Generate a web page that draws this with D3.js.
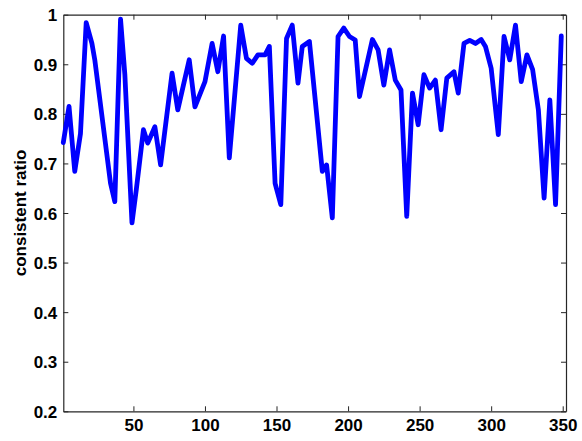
<!DOCTYPE html>
<html>
<head>
<meta charset="utf-8">
<script src="https://cdn.jsdelivr.net/npm/d3@7"></script>
<style>
  html, body { margin: 0; padding: 0; background: #fff; }
  svg { display: block; }
  .tick text { font-family: "Liberation Sans", Arial, sans-serif; font-weight: bold; font-size: 17px; fill: #000; }
</style>
</head>
<body>
<script>
// sample index along the sequence
const frameIndex = [1, 5, 9, 13, 17, 21, 23, 34, 37, 41, 44, 49, 52, 57, 60, 65, 69,
  77, 81, 89, 93, 100, 105, 109, 113, 117, 125, 129, 133, 137, 142, 145, 149, 153,
  157, 161, 165, 168, 173, 182, 185, 189, 193, 197, 201, 205, 208, 217, 221, 225,
  229, 233, 237, 241, 245, 249, 253, 257, 261, 265, 269, 274, 277, 281, 285, 289,
  293, 296, 300, 305, 309, 313, 317, 321, 325, 329, 333, 337, 341, 345, 349];

// consistent ratio at each sample
const consistentRatio = [0.742, 0.815, 0.684, 0.76, 0.984, 0.942, 0.909, 0.66, 0.623, 0.991,
  0.88, 0.58, 0.647, 0.768, 0.741, 0.774, 0.697, 0.882, 0.808, 0.909, 0.814, 0.865,
  0.942, 0.885, 0.957, 0.711, 0.979, 0.912, 0.902, 0.919, 0.919, 0.936, 0.66, 0.617,
  0.952, 0.979, 0.862, 0.936, 0.946, 0.684, 0.697, 0.59, 0.956, 0.973, 0.956, 0.949,
  0.835, 0.95, 0.929, 0.858, 0.929, 0.868, 0.848, 0.593, 0.842, 0.778, 0.879, 0.852,
  0.868, 0.768, 0.872, 0.885, 0.842, 0.942, 0.948, 0.942, 0.95, 0.936, 0.892, 0.758,
  0.956, 0.909, 0.979, 0.865, 0.919, 0.889, 0.808, 0.63, 0.828, 0.617, 0.957];

const xTickValues = [50, 100, 150, 200, 250, 300, 350];
const yTickValues = [0.2, 0.3, 0.4, 0.5, 0.6, 0.7, 0.8, 0.9, 1];
const yLabel = "consistent ratio";

const W = 582, H = 441;
const margin = { left: 63.3, right: 16, top: 14.7, bottom: 29.7 };

const svg = d3.select("body").append("svg").attr("width", W).attr("height", H);

const x = d3.scaleLinear().domain([1, 352.3]).range([margin.left, W - margin.right]);
const y = d3.scaleLinear().domain([0.2, 1]).range([H - margin.bottom, margin.top]);

const fmtY = d => (d === 1 ? "1" : d3.format(".1f")(d));

// bottom axis with labels, top axis ticks only
const gx = svg.append("g").attr("transform", `translate(0,${y(0.2)})`)
  .call(d3.axisBottom(x).tickValues(xTickValues).tickSize(-5).tickPadding(8).tickSizeOuter(0));
const gxTop = svg.append("g").attr("transform", `translate(0,${y(1)})`)
  .call(d3.axisTop(x).tickValues(xTickValues).tickSize(-5).tickFormat("").tickSizeOuter(0));

// left axis with labels, right axis ticks only
const gy = svg.append("g").attr("transform", `translate(${x(1)},0)`)
  .call(d3.axisLeft(y).tickValues(yTickValues).tickFormat(fmtY).tickSize(-5).tickPadding(6).tickSizeOuter(0));
const gyRight = svg.append("g").attr("transform", `translate(${x(352.3)},0)`)
  .call(d3.axisRight(y).tickValues(yTickValues).tickFormat("").tickSize(-5).tickSizeOuter(0));

[gx, gxTop, gy, gyRight].forEach(g => {
  g.selectAll(".domain").attr("stroke", "#262626").attr("stroke-width", 1.2);
  g.selectAll(".tick line").attr("stroke", "#262626").attr("stroke-width", 1);
});
gx.selectAll(".tick text").attr("dy", "0.71em");
gy.selectAll(".tick text").attr("dy", "0.36em");

// data line
const line = d3.line()
  .x((d, i) => x(frameIndex[i]))
  .y(d => y(d));

svg.append("path")
  .datum(consistentRatio)
  .attr("d", line)
  .attr("fill", "none")
  .attr("stroke", "#0000ff")
  .attr("stroke-width", 4.8)
  .attr("stroke-linejoin", "round")
  .attr("stroke-linecap", "round");

// y-axis title
svg.append("text")
  .attr("transform", `translate(26,${(y(0.2) + y(1)) / 2}) rotate(-90)`)
  .attr("text-anchor", "middle")
  .attr("font-family", "Liberation Sans, Arial, sans-serif")
  .attr("font-weight", "bold")
  .attr("font-size", 17)
  .text(yLabel);
</script>
</body>
</html>
